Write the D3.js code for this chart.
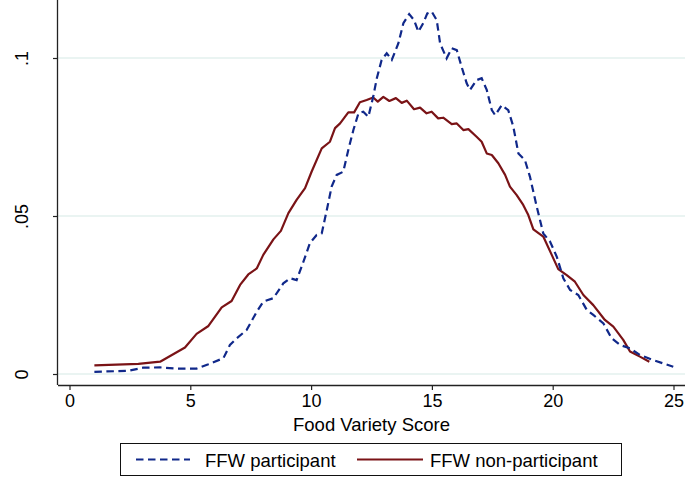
<!DOCTYPE html>
<html>
<head>
<meta charset="utf-8">
<script src="https://cdn.jsdelivr.net/npm/d3@7"></script>
<style>
  body { margin: 0; background: #fff; }
  text { font-family: "Liberation Sans", Arial, sans-serif; fill: #000; }
</style>
</head>
<body>
<script>
// density estimates
var partX = [1.03,2.43,3.05,3.75,4.44,5.26,5.75,6.37,6.64,6.92,7.33,7.75,8.02,8.44,8.85,9.13,9.40,9.68,9.95,10.23,10.44,10.65,10.85,11.06,11.33,11.54,11.75,11.96,12.16,12.37,12.57,12.72,12.92,13.13,13.34,13.61,13.82,14.06,14.26,14.44,14.64,14.81,14.99,15.20,15.34,15.61,15.82,16.03,16.23,16.44,16.58,16.85,17.06,17.27,17.48,17.62,17.89,18.16,18.37,18.58,18.85,19.06,19.34,19.61,19.89,20.17,20.44,20.72,21.06,21.41,21.68,22.10,22.44,22.79,23.20,23.61,24.16,24.99];
var partY = [0.0007,0.0010,0.0020,0.0021,0.0017,0.0017,0.0031,0.0050,0.0092,0.0113,0.0139,0.0197,0.0229,0.0240,0.0287,0.0303,0.0297,0.0355,0.0414,0.0440,0.0445,0.0519,0.0593,0.0630,0.0640,0.0709,0.0772,0.0825,0.0830,0.0814,0.0877,0.0936,0.0994,0.1015,0.0994,0.1046,0.1110,0.1139,0.1120,0.1083,0.1110,0.1141,0.1147,0.1120,0.1046,0.0999,0.1031,0.1025,0.0972,0.0920,0.0899,0.0930,0.0936,0.0899,0.0835,0.0819,0.0851,0.0835,0.0783,0.0698,0.0677,0.0624,0.0529,0.0445,0.0419,0.0371,0.0303,0.0266,0.0250,0.0203,0.0187,0.0160,0.0113,0.0092,0.0081,0.0060,0.0044,0.0023];

var nonX = [1.03,2.85,3.75,4.78,5.26,5.75,6.30,6.71,7.06,7.40,7.75,8.02,8.44,8.75,9.06,9.40,9.75,10.02,10.44,10.78,10.99,11.20,11.54,11.78,12.02,12.30,12.57,12.76,12.99,13.24,13.51,13.75,13.96,14.26,14.51,14.78,14.99,15.26,15.47,15.82,16.03,16.30,16.51,16.85,17.06,17.27,17.48,17.75,18.03,18.23,18.51,18.78,18.99,19.20,19.61,19.96,20.23,20.58,20.92,21.27,21.68,22.16,22.51,22.92,23.20,23.61,24.00];
var nonY = [0.00275,0.0032,0.0039,0.0084,0.0127,0.0152,0.0211,0.0231,0.0282,0.0315,0.0334,0.0377,0.0426,0.0453,0.0509,0.0551,0.0588,0.0640,0.0714,0.0735,0.0778,0.0793,0.0828,0.0828,0.0860,0.0867,0.0875,0.0862,0.0877,0.0864,0.0873,0.0858,0.0865,0.0838,0.0843,0.0825,0.0830,0.0809,0.0811,0.0791,0.0793,0.0772,0.0775,0.0751,0.0735,0.0698,0.0693,0.0667,0.0630,0.0593,0.0566,0.0535,0.0503,0.0458,0.0435,0.0377,0.0332,0.0313,0.0292,0.0250,0.0218,0.0171,0.0150,0.0108,0.0071,0.0055,0.0039];

var xTicks = [0,5,10,15,20,25];
var yTicks = [0,0.05,0.1];
var yTickLabels = ['0','.05','.1'];
var seriesNames = ['FFW participant','FFW non-participant'];

var w = 685, h = 478;
var left = 58, bottom = 385, right = 685;
var blue = '#10288a', red = '#7a1316';

var x = d3.scaleLinear().domain([0,25]).range([69.5,673.5]);
var y = d3.scaleLinear().domain([0,0.1]).range([374,58]);

var svg = d3.select('body').append('svg')
            .attr('width',w)
            .attr('height',h);

svg.append('rect').attr('width',w).attr('height',h).attr('fill','#fff');

// grid
svg.selectAll('.grid')
   .data(yTicks)
   .enter()
   .append('line')
   .attr('x1',left).attr('x2',right)
   .attr('y1',function(d){ return y(d); })
   .attr('y2',function(d){ return y(d); })
   .attr('stroke','#e3f1ee')
   .attr('stroke-width',1.5);

// axes
var xAxis = svg.append('g')
   .attr('transform','translate(0,'+bottom+')')
   .call(d3.axisBottom(x).tickValues(xTicks).tickSize(5).tickPadding(4).tickFormat(d3.format('d')));
xAxis.select('.domain').attr('d','M'+left+',0.5H'+right).attr('stroke','#222').attr('stroke-width',1.3);
xAxis.selectAll('.tick line').attr('stroke','#222').attr('stroke-width',1.2);
xAxis.selectAll('.tick text').attr('font-size',18).attr('fill','#000');

var yAxis = svg.append('g')
   .attr('transform','translate('+left+',0)')
   .call(d3.axisLeft(y).tickValues(yTicks).tickSize(5)
         .tickFormat(function(d,i){ return yTickLabels[i]; }));
yAxis.select('.domain').attr('d','M-0.5,0V'+bottom).attr('stroke','#222').attr('stroke-width',1.3);
yAxis.selectAll('.tick line').attr('stroke','#222').attr('stroke-width',1.2);
yAxis.selectAll('.tick text')
     .attr('font-size',18)
     .attr('fill','#000')
     .attr('x',0).attr('dy',0)
     .attr('text-anchor','middle')
     .attr('transform','translate(-30,0) rotate(-90)');

svg.append('text')
   .attr('x',(left+right)/2)
   .attr('y',431)
   .attr('text-anchor','middle')
   .attr('font-size',18.5)
   .text('Food Variety Score');

// curves
var line = d3.line()
   .x(function(d){ return x(d[0]); })
   .y(function(d){ return y(d[1]); });

var part = partX.map(function(v,i){ return [v, partY[i]]; });
var non = nonX.map(function(v,i){ return [v, nonY[i]]; });

svg.append('path')
   .datum(non)
   .attr('d',line)
   .attr('fill','none')
   .attr('stroke',red)
   .attr('stroke-width',2.2)
   .attr('stroke-linejoin','round');

svg.append('path')
   .datum(part)
   .attr('d',line)
   .attr('fill','none')
   .attr('stroke',blue)
   .attr('stroke-width',2.2)
   .attr('stroke-dasharray','7.5,4.5');

// legend
var lg = svg.append('g');
lg.append('rect')
  .attr('x',120.5).attr('y',443.5)
  .attr('width',501).attr('height',32)
  .attr('fill','#fff').attr('stroke','#111').attr('stroke-width',1);
lg.append('line')
  .attr('x1',136).attr('x2',190).attr('y1',459.5).attr('y2',459.5)
  .attr('stroke',blue).attr('stroke-width',2.2).attr('stroke-dasharray','7.5,4.5');
lg.append('text').attr('x',205).attr('y',466.5).attr('font-size',18.5).text(seriesNames[0]);
lg.append('line')
  .attr('x1',357).attr('x2',423).attr('y1',459.5).attr('y2',459.5)
  .attr('stroke',red).attr('stroke-width',2.2);
lg.append('text').attr('x',430).attr('y',466.5).attr('font-size',18.5).text(seriesNames[1]);
</script>
</body>
</html>
